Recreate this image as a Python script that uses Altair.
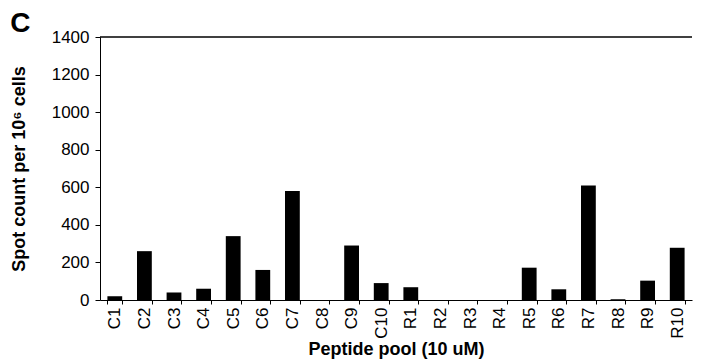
import altair as alt
import pandas as pd

pools = ["C1", "C2", "C3", "C4", "C5", "C6", "C7", "C8", "C9", "C10",
         "R1", "R2", "R3", "R4", "R5", "R6", "R7", "R8", "R9", "R10"]
counts = [20, 260, 40, 60, 340, 160, 580, 0, 290, 90,
          68, 0, 0, 0, 172, 57, 610, 4, 103, 278]
y_ticks = [0, 200, 400, 600, 800, 1000, 1200, 1400]
y_max = 1400

df = pd.DataFrame({"pool": pools, "count": counts})
top_df = pd.DataFrame({"count": [y_max]})
FONT = "Liberation Sans"

y_axis = alt.Axis(title="Spot count per 10⁶ cells", values=y_ticks,
                  format="d", labelOverlap=False,
                  grid=False, domainColor="black", tickColor="black",
                  tickSize=5, labelFontSize=17, labelColor="black",
                  labelFont=FONT, titleFont=FONT, titleFontSize=18,
                  titleFontWeight="bold", titleColor="black",
                  labelPadding=6, titlePadding=23)
y_scale = alt.Scale(domain=[0, y_max], nice=False)

bars = alt.Chart(df).mark_bar(color="black").encode(
    x=alt.X("pool:N", sort=pools,
            scale=alt.Scale(paddingInner=0.5, paddingOuter=0.25),
            axis=alt.Axis(title="Peptide pool (10 uM)", labelAngle=-90,
                          tickBand="extent", domainColor="black", tickColor="black",
                          tickSize=4, labelFontSize=17, labelColor="black",
                          labelFont=FONT, titleFont=FONT, titleFontSize=18,
                          titleFontWeight="bold", titleColor="black",
                          labelPadding=3, titlePadding=2)),
    y=alt.Y("count:Q", scale=y_scale, axis=y_axis),
)

top = alt.Chart(top_df).mark_rule(color="black", strokeWidth=1.5).encode(
    y=alt.Y("count:Q", scale=y_scale, axis=y_axis)
)

chart = alt.layer(bars, top).properties(
    width=592, height=263,
    title=alt.TitleParams("C", anchor="start", frame="bounds", fontSize=28,
                          fontWeight="bold", font=FONT, color="black", offset=-10),
    padding={"left": 2, "top": 2, "right": 0, "bottom": 0},
).configure_view(stroke=None)

chart.save("out.html", embed_options={"renderer": "svg", "actions": False})
